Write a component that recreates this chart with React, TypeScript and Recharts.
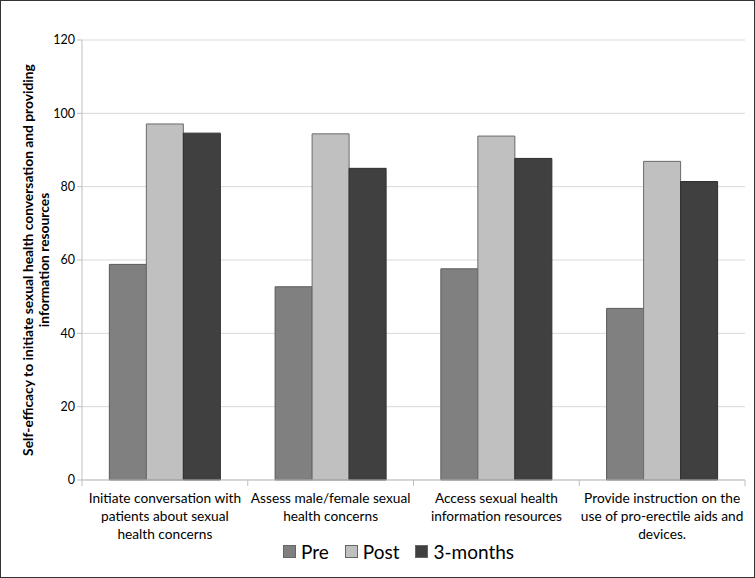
import React from "react";
import { BarChart, Bar, XAxis, YAxis, CartesianGrid, Legend } from "recharts";

const categories = [
  "Initiate conversation with\npatients about sexual\nhealth concerns",
  "Assess male/female sexual\nhealth concerns",
  "Access sexual health\ninformation resources",
  "Provide instruction on the\nuse of pro-erectile aids and\ndevices.",
];
const preValues = [58.8, 52.7, 57.6, 46.8];
const postValues = [97.1, 94.4, 93.8, 86.9];
const threeMonthValues = [94.6, 85.0, 87.7, 81.4];
const yTicks = [0, 20, 40, 60, 80, 100, 120];
const seriesNames = ["Pre", "Post", "3-months"];
const seriesColors = ["#808080", "#c0c0c0", "#404040"];

const data = categories.map((c, i) => ({
  name: c,
  pre: preValues[i],
  post: postValues[i],
  three: threeMonthValues[i],
}));

const W = 755;
const H = 578;
const FONT = "Lato, 'Liberation Sans', sans-serif";
const PLOT_LEFT = 82;
const PLOT_RIGHT = 10;
const BAND = (W - PLOT_LEFT - PLOT_RIGHT) / categories.length;

const XTick = (props: any) => {
  const { x, y, payload, index } = props;
  const lines = String(payload.value).split("\n");
  return (
    <g>
      <line x1={x - BAND / 2} x2={x - BAND / 2} y1={y - 8} y2={y - 2} stroke="#bfbfbf" />
      {index === categories.length - 1 && (
        <line x1={x + BAND / 2} x2={x + BAND / 2} y1={y - 8} y2={y - 2} stroke="#bfbfbf" />
      )}
      <text x={x} y={y + 15} textAnchor="middle" fontSize={13.7} fill="#000" fontFamily={FONT}>
        {lines.map((l, i) => (
          <tspan key={i} x={x} dy={i === 0 ? 0 : 18}>
            {l}
          </tspan>
        ))}
      </text>
    </g>
  );
};

const YLabel = (props: any) => {
  const vb = props.viewBox || {};
  const cy = vb.y + vb.height / 2;
  const cx = 34;
  return (
    <text
      transform={`translate(${cx}, ${cy}) rotate(-90)`}
      textAnchor="middle"
      fontSize={13.8}
      fontWeight="bold"
      fill="#000"
      fontFamily={FONT}
    >
      <tspan x={0} dy={-2}>Self-efficacy to initiate sexual health conversation and providing</tspan>
      <tspan x={0} dy={16}>information resources</tspan>
    </text>
  );
};

const LegendContent = () => (
  <div style={{ display: "flex", justifyContent: "center", alignItems: "center", fontFamily: FONT, fontSize: 19, color: "#000", paddingLeft: 42 }}>
    {seriesNames.map((n, i) => (
      <span key={n} style={{ display: "inline-flex", alignItems: "center", marginLeft: i === 0 ? 0 : 16 }}>
        <span style={{ display: "inline-block", width: 11, height: 11, background: seriesColors[i], border: "1px solid #666", marginRight: 5 }} />
        {n}
      </span>
    ))}
  </div>
);

export default function App() {
  return (
    <div
      style={{
        position: "absolute",
        left: 0,
        top: 0,
        width: W,
        height: H,
        background: "#fff",
        boxSizing: "border-box",
        border: "1px solid #333",
      }}
    >
      <BarChart
        width={W - 2}
        height={H - 2}
        data={data}
        margin={{ top: 39, right: PLOT_RIGHT - 1, left: 0, bottom: 0 }}
        barCategoryGap="16.5%"
        barGap={0}
      >
        <CartesianGrid vertical={false} stroke="#d9d9d9" />
        <XAxis
          dataKey="name"
          interval={0}
          height={72}
          tick={<XTick />}
          tickLine={false}
          axisLine={{ stroke: "#bfbfbf" }}
        />
        <YAxis
          width={PLOT_LEFT - 1}
          domain={[0, 120]}
          ticks={yTicks}
          tick={{ fontSize: 12.5, fill: "#000", fontFamily: FONT }}
          tickLine={{ stroke: "#bfbfbf" }}
          tickSize={5}
          axisLine={{ stroke: "#bfbfbf" }}
          label={<YLabel />}
        />
        <Legend
          verticalAlign="bottom"
          height={25}
          content={<LegendContent />}
          wrapperStyle={{ top: 539, left: 0, width: W - 2 }}
        />
        <Bar dataKey="pre" name="Pre" fill={seriesColors[0]} stroke="#5a5a5a" isAnimationActive={false} />
        <Bar dataKey="post" name="Post" fill={seriesColors[1]} stroke="#6a6a6a" isAnimationActive={false} />
        <Bar dataKey="three" name="3-months" fill={seriesColors[2]} stroke="#2e2e2e" isAnimationActive={false} />
      </BarChart>
    </div>
  );
}
